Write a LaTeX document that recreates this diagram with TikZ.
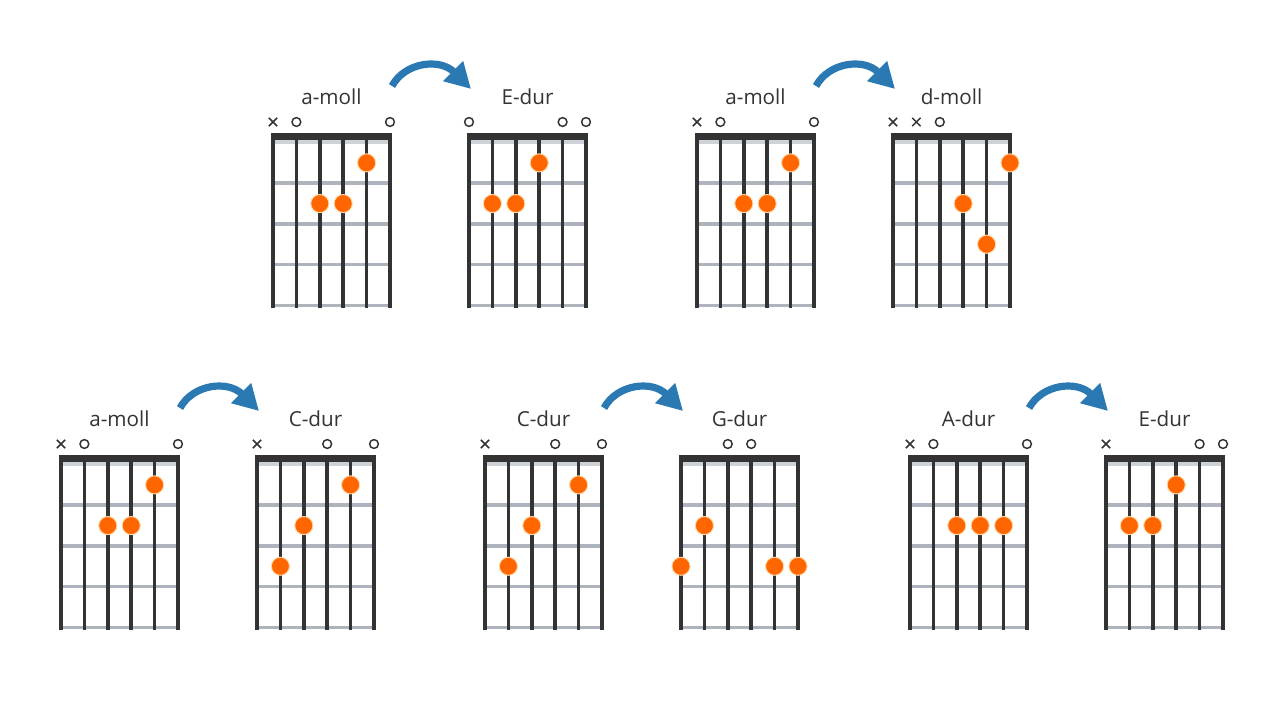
\documentclass[tikz,border=0pt]{standalone}
\usepackage{fontspec}
\setmainfont{Open Sans}
\usetikzlibrary{arrows.meta,shapes.misc}

\definecolor{inkgray}{HTML}{333333}
\definecolor{fretgray}{HTML}{AEB4BD}
\definecolor{bandgray}{HTML}{CDD1D8}
\definecolor{dotorange}{HTML}{FF6600}
\definecolor{dotrim}{HTML}{FFD9A8}
\definecolor{arrowblue}{HTML}{2B79B3}

% one chord box: name, x, y, title, markers (string/style), dots (string/fret)
\newcommand{\chordbox}[6]{%
  \begin{scope}[shift={(#2,#3)}]
    \foreach \f in {1,...,4}
      \draw[fretline] (0,9.5+40.7*\f) -- (117,9.5+40.7*\f);
    \fill[bandgray] (-1.75,6) rectangle (118.75,10.5);
    \foreach \s in {0,...,5}
      \draw[strline] (23.4*\s,0) -- (23.4*\s,174.5);
    \fill[inkgray] (-1.75,0) rectangle (118.75,6.5);
    \node[chordname] (#1) at (58.5,-36) {#4};
    \coordinate (#1-out) at (119,-47);
    \coordinate (#1-in) at (2,-44);
    \foreach \s/\m in {#5}
      \node[\m] at (23.4*\s-23.4,-11) {};
    \foreach \s/\f in {#6}
      \node[fingerdot] at (23.4*\s-23.4,9.5+40.7*\f-20.35) {};
  \end{scope}}

\begin{document}
\begin{tikzpicture}[x=0.75pt, y=-0.75pt,
  fretline/.style={draw=fretgray, line width=2.7pt},
  strline/.style={draw=inkgray, line width=2.6pt},
  chordname/.style={text=inkgray, font=\fontsize{15.5}{18}\selectfont, inner sep=0pt},
  opnstr/.style={circle, draw=inkgray, line width=1.1pt, minimum size=6.6pt, inner sep=0pt},
  mutestr/.style={cross out, draw=inkgray, line width=1.1pt, minimum size=5.2pt, inner sep=0pt},
  fingerdot/.style={circle, fill=dotorange, draw=dotrim, line width=0.7pt, minimum size=13.6pt, inner sep=0pt},
  chgarrow/.style={draw=arrowblue, line width=5.4pt, -{Triangle[length=19pt, width=20pt]}}]

\useasboundingbox (0,0) rectangle (1280,725);
\fill[white] (0,0) rectangle (1280,725);

% Top row
\chordbox{am1}{273}{133}{a-moll}{1/mutestr,2/opnstr,6/opnstr}{5/1,3/2,4/2}
\chordbox{ed1}{469}{133}{E-dur}{1/opnstr,5/opnstr,6/opnstr}{4/1,2/2,3/2}
\chordbox{am2}{697}{133}{a-moll}{1/mutestr,2/opnstr,6/opnstr}{5/1,3/2,4/2}
\chordbox{dm1}{893}{133}{d-moll}{1/mutestr,2/mutestr,3/opnstr}{6/1,4/2,5/3}

% Bottom row
\chordbox{am3}{61}{455}{a-moll}{1/mutestr,2/opnstr,6/opnstr}{5/1,3/2,4/2}
\chordbox{cd1}{257}{455}{C-dur}{1/mutestr,4/opnstr,6/opnstr}{5/1,3/2,2/3}
\chordbox{cd2}{485}{455}{C-dur}{1/mutestr,4/opnstr,6/opnstr}{5/1,3/2,2/3}
\chordbox{gd1}{681}{455}{G-dur}{3/opnstr,4/opnstr}{2/2,1/3,5/3,6/3}
\chordbox{ad1}{910}{455}{A-dur}{1/mutestr,2/opnstr,6/opnstr}{3/2,4/2,5/2}
\chordbox{ed2}{1106}{455}{E-dur}{1/mutestr,5/opnstr,6/opnstr}{4/1,2/2,3/2}

% Changes
\foreach \a/\b in {am1/ed1,am2/dm1,am3/cd1,cd2/gd1,ad1/ed2}
  \draw[chgarrow] (\a-out) .. controls +(13,-24) and +(-31,-31) .. (\b-in);
\end{tikzpicture}
\end{document}
